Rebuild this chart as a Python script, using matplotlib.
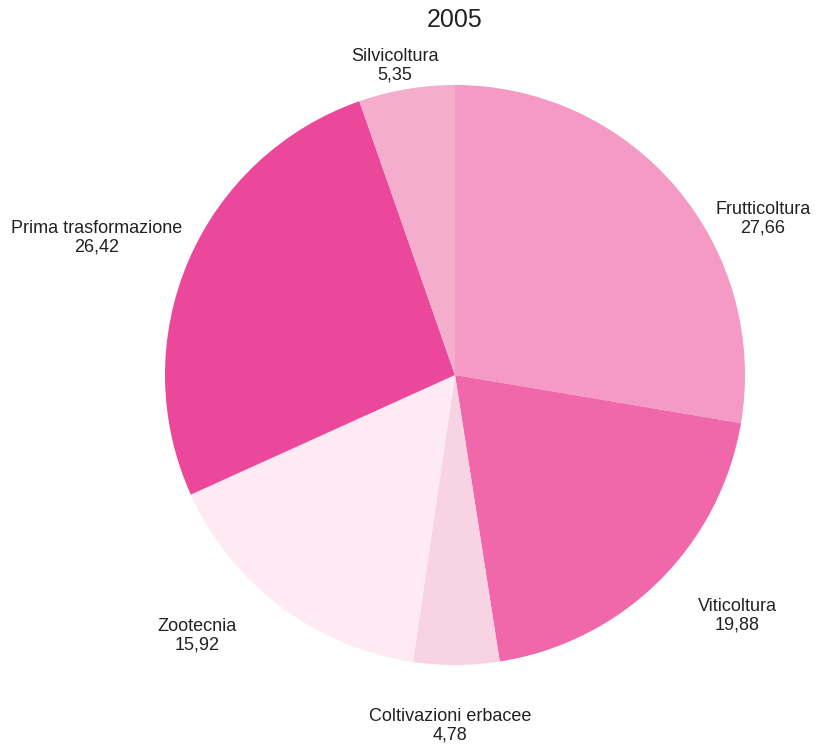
import matplotlib
matplotlib.use("Agg")
import matplotlib.pyplot as plt

plt.rcParams['font.family'] = ['Liberation Sans', 'DejaVu Sans']

categories = ["Frutticoltura", "Viticoltura", "Coltivazioni erbacee",
              "Zootecnia", "Prima trasformazione", "Silvicoltura"]
values = [27.66, 19.88, 4.78, 15.92, 26.42, 5.35]
colors = ["#f49ac4", "#f168aa", "#f8d3e3", "#fdeaf2", "#ec489b", "#f5adcd"]

# label anchor positions in pixels (x from left, y from top)
label_pos = [(763, 219), (737, 616), (450, 726), (197, 636), (97, 238), (395, 66)]

W, H = 826, 745
fig = plt.figure(figsize=(W / 100, H / 100), dpi=100)
ax = fig.add_axes([0, 0, 1, 1])

ax.pie(values, colors=colors, startangle=90, counterclock=False,
       center=(455, H - 375), radius=290, frame=True,
       wedgeprops=dict(linewidth=0))
ax.set_xlim(0, W)
ax.set_ylim(0, H)
ax.axis('off')

for name, v, (x, y) in zip(categories, values, label_pos):
    txt = name + "\n" + f"{v:.2f}".replace(".", ",")
    ax.text(x, H - y, txt, ha='center', va='center', fontsize=13,
            color='#222222', linespacing=1.1)

ax.text(455, H - 20, "2005", ha='center', va='center', fontsize=18, color='#222222')

fig.savefig("out.png", dpi=100)
